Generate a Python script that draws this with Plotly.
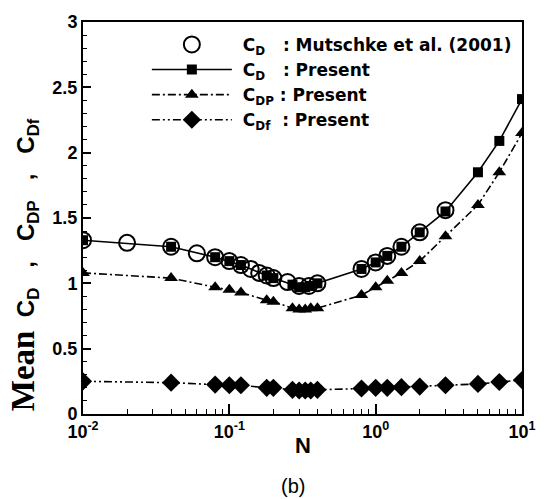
import plotly.graph_objects as go

# Mutschke et al. (2001) reference data
N_ref = [0.01, 0.02, 0.04, 0.06, 0.08, 0.1, 0.12, 0.14, 0.16, 0.18, 0.2, 0.25,
         0.3, 0.35, 0.4, 0.8, 1.0, 1.2, 1.5, 2.0, 3.0]
CD_ref = [1.33, 1.31, 1.28, 1.23, 1.20, 1.17, 1.14, 1.11, 1.08, 1.06, 1.04, 1.01,
          0.98, 0.98, 1.00, 1.11, 1.16, 1.21, 1.28, 1.39, 1.56]

# Present results
N_pre = [0.01, 0.04, 0.08, 0.1, 0.12, 0.18, 0.2, 0.27, 0.3, 0.33, 0.36, 0.4,
         0.8, 1.0, 1.2, 1.5, 2.0, 3.0, 5.0, 7.0, 10.0]
CD_pre = [1.33, 1.28, 1.20, 1.17, 1.14, 1.06, 1.04, 0.99, 0.97, 0.97, 0.98, 1.00,
          1.11, 1.16, 1.21, 1.28, 1.39, 1.55, 1.85, 2.09, 2.41]
CDP_pre = [1.08, 1.04, 0.97, 0.95, 0.93, 0.87, 0.86, 0.81, 0.80, 0.80, 0.81, 0.81,
           0.91, 0.97, 1.02, 1.08, 1.17, 1.36, 1.60, 1.85, 2.15]
CDf_pre = [0.25, 0.24, 0.225, 0.22, 0.22, 0.20, 0.20, 0.185, 0.18, 0.18, 0.18, 0.185,
           0.195, 0.20, 0.20, 0.205, 0.21, 0.22, 0.23, 0.245, 0.26]

x_tickvals = [0.01, 0.1, 1, 10]
x_ticktext = ["10<sup>-2</sup>", "10<sup>-1</sup>", "10<sup>0</sup>", "10<sup>1</sup>"]
y_tickvals = [0, 0.5, 1, 1.5, 2, 2.5, 3]
y_ticktext = ["0", "0.5", "1", "1.5", "2", "2.5", "3"]

FONT = "Liberation Sans, Arial, sans-serif"
LEGFONT = "DejaVu Sans, Liberation Sans, sans-serif"
SERIF = "Liberation Serif, Times New Roman, serif"
BLACK = "black"

# plot-area geometry in pixels
L, R, T, B = 83, 25, 14, 85
W, H = 548, 499
PW, PH = W - L - R, H - T - B


def px_x(p):
    return (p - L) / PW


def px_y(p):
    return (H - B - p) / PH


fig = go.Figure()

fig.add_trace(go.Scatter(
    x=N_ref, y=CD_ref, mode="markers",
    name="&nbsp;C<sub>D</sub>&nbsp;&nbsp;&nbsp;: Mutschke et al. (2001)",
    marker=dict(symbol="circle-open", size=16, color=BLACK, line=dict(width=2, color=BLACK)),
))
fig.add_trace(go.Scatter(
    x=N_pre, y=CD_pre, mode="lines+markers",
    name="&nbsp;C<sub>D</sub>&nbsp;&nbsp;&nbsp;: Present",
    line=dict(color=BLACK, width=1.6, dash="solid"),
    marker=dict(symbol="square", size=10, color=BLACK),
))
fig.add_trace(go.Scatter(
    x=N_pre, y=CDP_pre, mode="lines+markers",
    name="&nbsp;C<sub>DP</sub>&nbsp;: Present",
    line=dict(color=BLACK, width=1.6, dash="8px,3px,2px,3px"),
    marker=dict(symbol="triangle-up", size=12, color=BLACK),
))
fig.add_trace(go.Scatter(
    x=N_pre, y=CDf_pre, mode="lines+markers",
    name="&nbsp;C<sub>Df</sub>&nbsp;&nbsp;: Present",
    line=dict(color=BLACK, width=1.6, dash="8px,3px,2px,3px,2px,3px"),
    marker=dict(symbol="diamond", size=14, color=BLACK),
))

minor_x = [m * 10 ** e for e in (-2, -1, 0) for m in range(2, 10)]

fig.update_layout(
    width=W, height=H,
    margin=dict(l=L, r=R, t=T, b=B),
    paper_bgcolor="white", plot_bgcolor="white",
    font=dict(family=FONT, color=BLACK),
    showlegend=True,
    legend=dict(
        x=px_x(147), y=px_y(19), xanchor="left", yanchor="top",
        bgcolor="rgba(0,0,0,0)", borderwidth=0,
        font=dict(family=LEGFONT, size=17, color=BLACK, weight="bold"),
        itemwidth=80, tracegroupgap=0,
    ),
    xaxis=dict(
        type="log", range=[-2, 1],
        tickmode="array", tickvals=x_tickvals, ticktext=x_ticktext,
        ticks="inside", ticklen=10, tickwidth=1.5, tickcolor=BLACK,
        tickfont=dict(family=FONT, size=18, color=BLACK, weight="bold"),
        showline=True, linewidth=2, linecolor=BLACK, mirror=True,
        showgrid=False, zeroline=False,
        minor=dict(tickmode="array", tickvals=minor_x, ticks="inside",
                   ticklen=5, tickwidth=1, tickcolor=BLACK, showgrid=False),
    ),
    yaxis=dict(
        range=[0, 3],
        tickmode="array", tickvals=y_tickvals, ticktext=y_ticktext,
        ticks="inside", ticklen=8, tickwidth=1.5, tickcolor=BLACK,
        tickfont=dict(family=FONT, size=18, color=BLACK, weight="bold"),
        showline=True, linewidth=2, linecolor=BLACK, mirror=True,
        showgrid=False, zeroline=False,
        minor=dict(dtick=0.1, ticks="inside", ticklen=4, tickwidth=1,
                   tickcolor=BLACK, showgrid=False),
    ),
    annotations=[
        dict(text="<b>N</b>", x=px_x(303), y=px_y(446), xref="paper", yref="paper",
             xanchor="center", yanchor="middle",
             showarrow=False, font=dict(family=FONT, size=22, color=BLACK)),
        dict(text="(b)", x=px_x(293), y=px_y(487), xref="paper", yref="paper",
             xanchor="center", yanchor="middle",
             showarrow=False, font=dict(family=FONT, size=20, color=BLACK)),
        dict(text=(f"<span style='font-family:{SERIF}; font-size:33px'><b>Mean</b></span>"
                   "&nbsp;&nbsp;<b>C<sub>D</sub>&nbsp;&nbsp;&nbsp;,&nbsp;&nbsp;&nbsp;C<sub>DP</sub>"
                   "&nbsp;&nbsp;&nbsp;,&nbsp;&nbsp;&nbsp;C<sub>Df</sub></b>"),
             textangle=-90, x=px_x(24), y=px_y(262), xref="paper", yref="paper",
             xanchor="center", yanchor="middle",
             showarrow=False, font=dict(family=FONT, size=24, color=BLACK)),
    ],
)

fig.write_html("out.html")
